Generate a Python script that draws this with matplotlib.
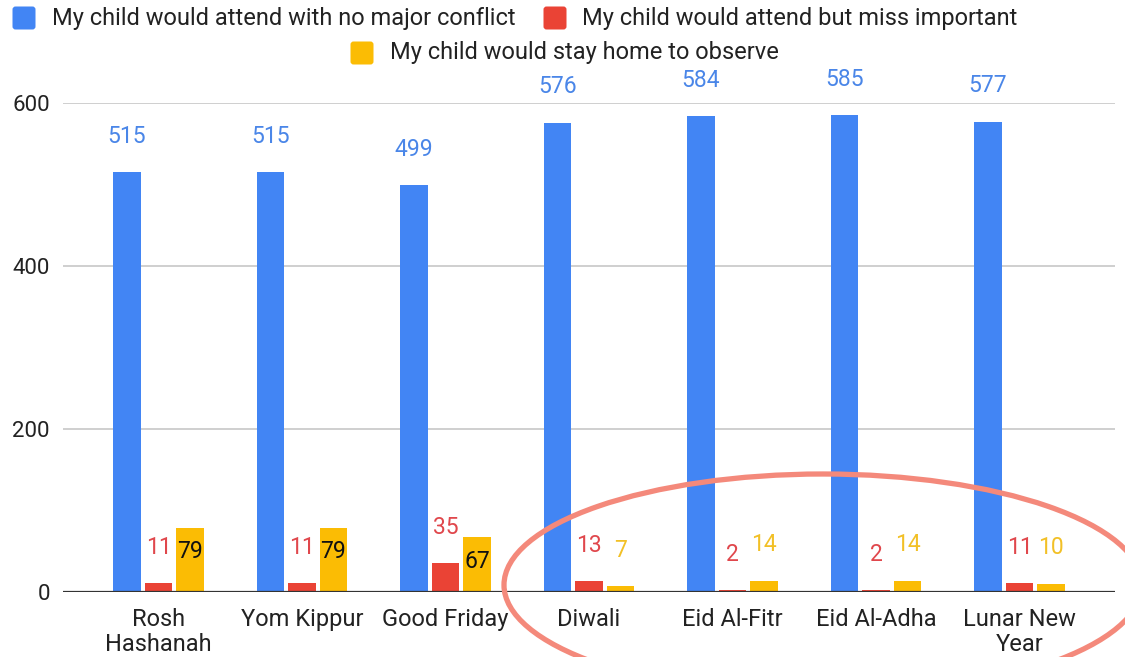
import matplotlib
matplotlib.use("Agg")
import matplotlib.pyplot as plt
from matplotlib.patches import Ellipse, FancyBboxPatch
from matplotlib.transforms import IdentityTransform
import numpy as np

plt.rcParams['font.family'] = ['Roboto', 'DejaVu Sans']

categories = ["Rosh\nHashanah", "Yom Kippur", "Good Friday", "Diwali",
              "Eid Al-Fitr", "Eid Al-Adha", "Lunar New\nYear"]
no_conflict = [515, 515, 499, 576, 584, 585, 577]
miss_important = [11, 11, 35, 13, 2, 2, 11]
stay_home = [79, 79, 67, 7, 14, 14, 10]
series_names = ["My child would attend with no major conflict",
                "My child would attend but miss important",
                "My child would stay home to observe"]
yticks = [0, 200, 400, 600]

colors = ["#4285F4", "#EA4335", "#FBBC04"]
label_colors = ["#4a86e8", "#e0474c", "#f2c026"]
yellow_inside = [True, True, True, False, False, False, False]

W, H = 1125, 657
fig = plt.figure(figsize=(W / 100, H / 100), dpi=100)
ax = fig.add_axes([63 / W, 65 / H, (1115 - 63) / W, (592 - 103) / H])

x = np.arange(len(categories))
offset = 0.2195
bw = 0.19
series = [no_conflict, miss_important, stay_home]
for i, vals in enumerate(series):
    pos = x + (i - 1) * offset
    bars = ax.bar(pos, vals, width=bw, color=colors[i], zorder=2)
    for j, (b, v) in enumerate(zip(bars, vals)):
        cx = b.get_x() + b.get_width() / 2
        if i == 2 and yellow_inside[j]:
            ax.annotate(str(v), (cx, v), xytext=(0, -24), textcoords='offset pixels',
                        ha='center', va='center', fontsize=16.5, color='#111111',
                        annotation_clip=False, zorder=4)
        else:
            ax.annotate(str(v), (cx, v), xytext=(0, 36), textcoords='offset pixels',
                        ha='center', va='center', fontsize=16.5, color=label_colors[i],
                        annotation_clip=False, zorder=4)

ax.set_xlim(-0.665, 6.665)
ax.set_ylim(0, 600)
ax.set_xticks(x, categories)
ax.set_yticks(yticks)
ax.tick_params(axis='y', length=0, labelsize=16, colors='#222222', pad=9.5)
ax.tick_params(axis='x', length=0, labelsize=17, colors='#222222', pad=11.5)
for lbl in ax.get_xticklabels():
    lbl.set_linespacing(1.1)
for s in ax.spines.values():
    s.set_visible(False)
ax.yaxis.grid(True, color='#cccccc', lw=1.3, zorder=0)
ax.set_axisbelow(True)
ax.axhline(0, color='#333333', lw=1.6, zorder=3)

# legend (manual, in pixel coordinates)
leg = [(12, 18, 52, 0), (543, 18, 582, 1), (350, 53, 390, 2)]
for sx, cy, tx, k in leg:
    p = FancyBboxPatch((sx + 2, H - cy - 10), 20, 20, boxstyle="round,pad=1.5,rounding_size=3",
                       fc=colors[k], ec='none', transform=IdentityTransform())
    fig.add_artist(p)
    fig.text(tx / W, (H - cy) / H, series_names[k], fontsize=17, color='#222222',
             ha='left', va='center')

# highlight ellipse
ecx, ecy, ea, eb = 823, 585, 319, 111
ell = Ellipse((ecx / W, (H - ecy) / H), 2 * ea / W, 2 * eb / H, fill=False,
              ec='#F4897B', lw=3.8, transform=fig.transFigure, zorder=10)
fig.add_artist(ell)

fig.savefig("out.png", dpi=100)
